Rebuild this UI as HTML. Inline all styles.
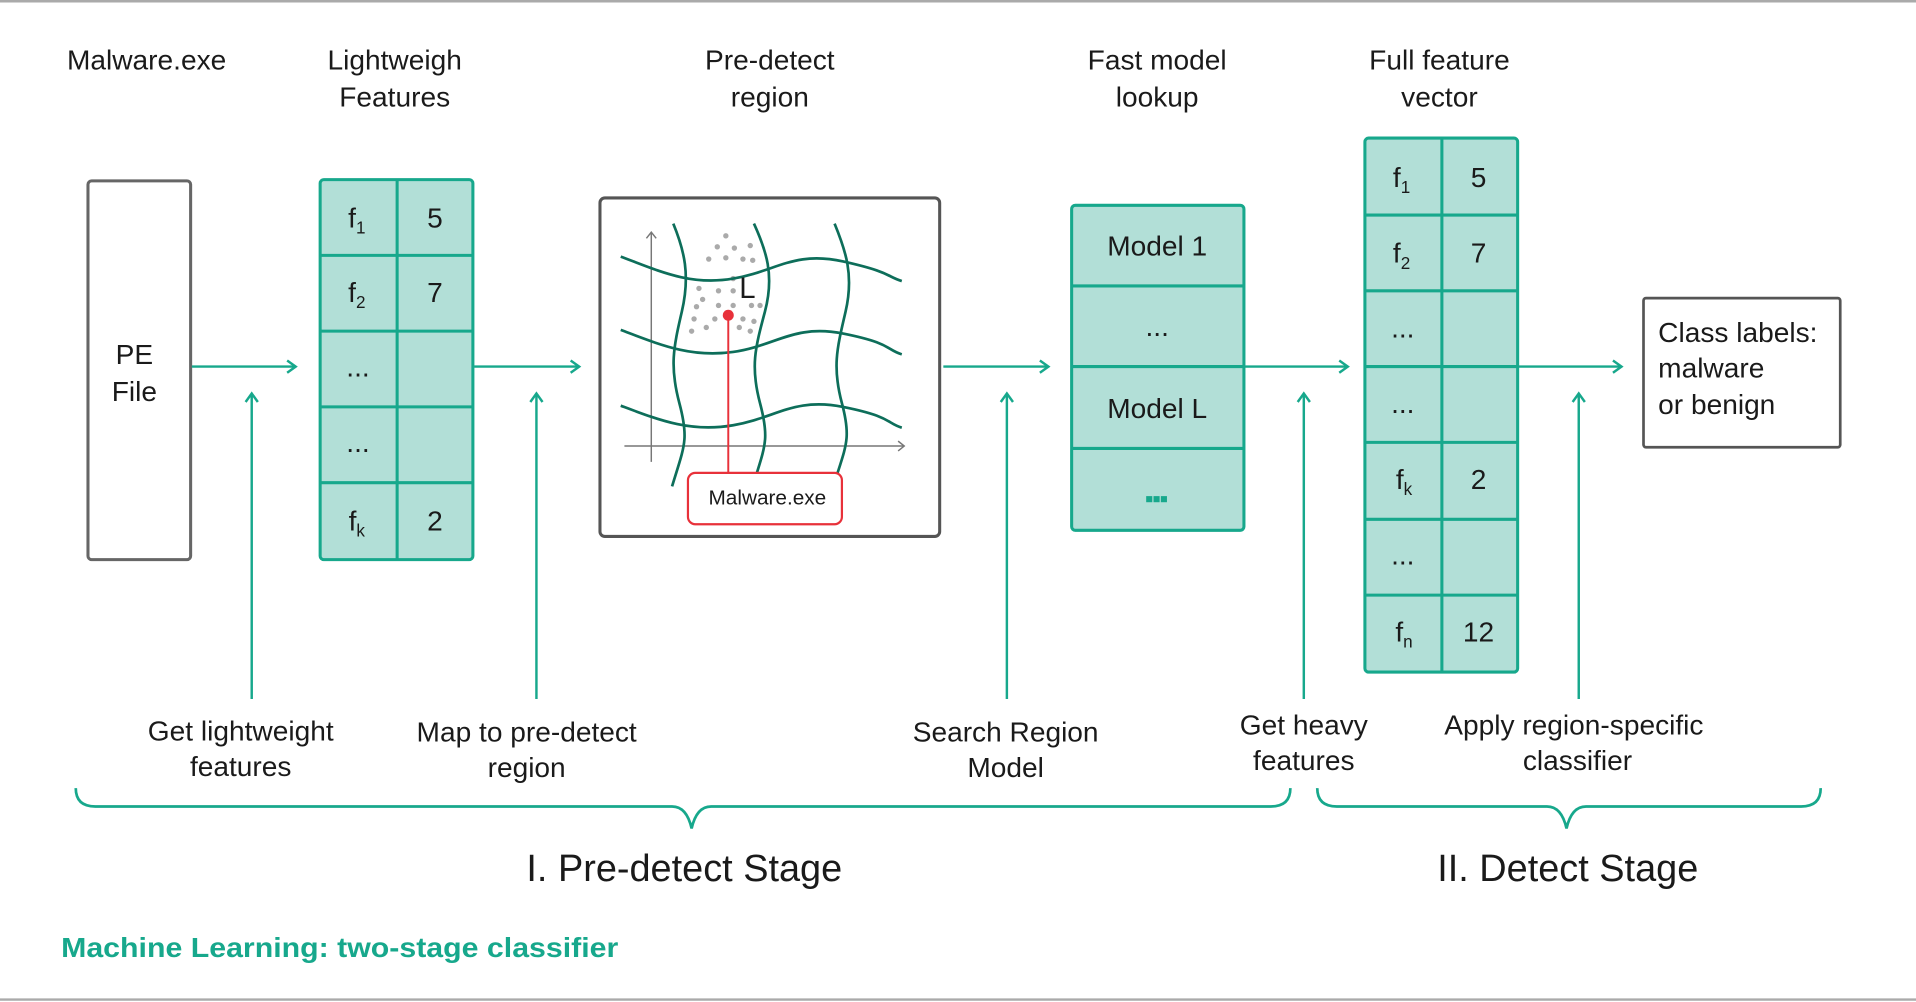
<!DOCTYPE html>
<html><head><meta charset="utf-8"><style>
html,body{margin:0;padding:0;background:#fff;}
svg{display:block;}
text{font-family:"Liberation Sans",sans-serif;fill:#1a1a1a;}
</style></head><body>
<svg width="1916" height="1002" viewBox="0 0 1568 820" preserveAspectRatio="none" xmlns="http://www.w3.org/2000/svg">
<rect x="0" y="0" width="1568" height="820" fill="#fff"/>
<line x1="0" y1="1" x2="1568" y2="1" stroke="#aaa" stroke-width="2"/>
<line x1="0" y1="818" x2="1568" y2="818" stroke="#aaa" stroke-width="2"/>
<g font-size="23" text-anchor="middle">
<text x="120" y="57">Malware.exe</text>
<text x="323" y="57">Lightweigh</text><text x="323" y="87">Features</text>
<text x="630" y="57">Pre-detect</text><text x="630" y="87">region</text>
<text x="947" y="57">Fast model</text><text x="947" y="87">lookup</text>
<text x="1178" y="57">Full feature</text><text x="1178" y="87">vector</text>
</g>
<rect x="72" y="148" width="84" height="310" rx="3" fill="#fff" stroke="#666" stroke-width="2.5"/>
<g font-size="23" text-anchor="middle"><text x="110" y="298">PE</text><text x="110" y="328">File</text></g>
<g stroke="#17a88c" stroke-width="2.5" fill="#b2dfd7">
<rect x="262" y="147" width="125" height="311" rx="3"/>
<line x1="325" y1="147" x2="325" y2="458"/>
<line x1="262" y1="209" x2="387" y2="209"/><line x1="262" y1="271" x2="387" y2="271"/>
<line x1="262" y1="333" x2="387" y2="333"/><line x1="262" y1="395" x2="387" y2="395"/>
</g>
<g font-size="23" text-anchor="middle">
<text x="292" y="186">f<tspan font-size="14" dy="5">1</tspan></text><text x="356" y="186">5</text>
<text x="292" y="247">f<tspan font-size="14" dy="5">2</tspan></text><text x="356" y="247">7</text>
<text x="293" y="308">...</text><text x="293" y="370">...</text>
<text x="292" y="434">f<tspan font-size="14" dy="5">k</tspan></text><text x="356" y="434">2</text>
</g>
<g stroke="#17a88c" stroke-width="2" fill="none">
<line x1="157" y1="300" x2="242" y2="300"/><polyline points="235,295 242,300 235,305"/>
<line x1="388" y1="300" x2="474" y2="300"/><polyline points="467,295 474,300 467,305"/>
<line x1="772" y1="300" x2="858" y2="300"/><polyline points="851,295 858,300 851,305"/>
<line x1="1018" y1="300" x2="1103" y2="300"/><polyline points="1096,295 1103,300 1096,305"/>
<line x1="1243" y1="300" x2="1327" y2="300"/><polyline points="1320,295 1327,300 1320,305"/>
<line x1="206" y1="572" x2="206" y2="322"/><polyline points="201,329 206,322 211,329"/>
<line x1="439" y1="572" x2="439" y2="322"/><polyline points="434,329 439,322 444,329"/>
<line x1="824" y1="572" x2="824" y2="322"/><polyline points="819,329 824,322 829,329"/>
<line x1="1067" y1="572" x2="1067" y2="322"/><polyline points="1062,329 1067,322 1072,329"/>
<line x1="1292" y1="572" x2="1292" y2="322"/><polyline points="1287,329 1292,322 1297,329"/>
</g>
<rect x="491" y="162" width="278" height="277" rx="4" fill="#fff" stroke="#555" stroke-width="2.5"/>
<g stroke="#777" stroke-width="1.2" fill="none">
<line x1="533" y1="378" x2="533" y2="190"/><polyline points="529,195 533,190 537,195"/>
<line x1="511" y1="365" x2="740" y2="365"/><polyline points="735,361 740,365 735,369"/>
</g>
<g fill="#aaa">
<circle cx="594" cy="193" r="2.2"/><circle cx="587" cy="202" r="2.2"/><circle cx="601" cy="203" r="2.2"/><circle cx="614" cy="201" r="2.2"/>
<circle cx="580" cy="212" r="2.2"/><circle cx="594" cy="211" r="2.2"/><circle cx="608" cy="212" r="2.2"/><circle cx="616" cy="213" r="2.2"/>
<circle cx="600" cy="228" r="2.2"/><circle cx="572" cy="236" r="2.2"/><circle cx="588" cy="238" r="2.2"/><circle cx="600" cy="238" r="2.2"/>
<circle cx="575" cy="245" r="2.2"/><circle cx="570" cy="251" r="2.2"/><circle cx="588" cy="250" r="2.2"/><circle cx="600" cy="250" r="2.2"/>
<circle cx="615" cy="250" r="2.2"/><circle cx="622" cy="250" r="2.2"/><circle cx="568" cy="261" r="2.2"/><circle cx="585" cy="261" r="2.2"/>
<circle cx="608" cy="261" r="2.2"/><circle cx="617" cy="263" r="2.2"/><circle cx="566" cy="271" r="2.2"/><circle cx="578" cy="268" r="2.2"/>
<circle cx="605" cy="268" r="2.2"/><circle cx="614" cy="271" r="2.2"/>
</g>
<g stroke="#0d6e5a" stroke-width="2.2" fill="none">
<path d="M508,210 C540,222 565,234 600,228 S650,205 690,214 S725,226 738,230"/>
<path d="M508,270 C540,282 565,293 600,288 S650,265 690,273 S725,286 738,290"/>
<path d="M508,332 C540,344 565,354 600,348 S650,325 690,333 S725,346 738,350"/>
<path d="M551,183 C560,205 565,225 558,255 S548,300 556,330 S560,365 550,398"/>
<path d="M617,183 C627,205 634,225 626,255 S614,300 622,330 S626,365 616,398"/>
<path d="M683,183 C692,205 699,225 692,255 S681,300 689,330 S692,365 682,398"/>
</g>
<text x="605" y="244" font-size="24">L</text>
<line x1="596" y1="258" x2="596" y2="387" stroke="#e8313a" stroke-width="1.6"/>
<circle cx="596" cy="258" r="4.5" fill="#e8313a"/>
<rect x="563" y="387" width="126" height="42" rx="6" fill="#fff" stroke="#e8313a" stroke-width="1.8"/>
<text x="628" y="413" font-size="17" text-anchor="middle">Malware.exe</text>
<g stroke="#17a88c" stroke-width="2.5" fill="#b2dfd7">
<rect x="877" y="168" width="141" height="266" rx="3"/>
<line x1="877" y1="234" x2="1018" y2="234"/><line x1="877" y1="300" x2="1018" y2="300"/><line x1="877" y1="367" x2="1018" y2="367"/>
</g>
<g font-size="23" text-anchor="middle">
<text x="947" y="209">Model 1</text><text x="947" y="275">...</text><text x="947" y="342">Model L</text>
</g>
<g fill="#17a88c"><rect x="938" y="406" width="5" height="5"/><rect x="944" y="406" width="5" height="5"/><rect x="950" y="406" width="5" height="5"/></g>
<g stroke="#17a88c" stroke-width="2.5" fill="#b2dfd7">
<rect x="1117" y="113" width="125" height="437" rx="3"/>
<line x1="1180" y1="113" x2="1180" y2="550"/>
<line x1="1117" y1="176" x2="1242" y2="176"/><line x1="1117" y1="238" x2="1242" y2="238"/>
<line x1="1117" y1="300" x2="1242" y2="300"/><line x1="1117" y1="362" x2="1242" y2="362"/>
<line x1="1117" y1="425" x2="1242" y2="425"/><line x1="1117" y1="487" x2="1242" y2="487"/>
</g>
<g font-size="23" text-anchor="middle">
<text x="1147" y="153">f<tspan font-size="14" dy="5">1</tspan></text><text x="1210" y="153">5</text>
<text x="1147" y="215">f<tspan font-size="14" dy="5">2</tspan></text><text x="1210" y="215">7</text>
<text x="1148" y="276">...</text><text x="1148" y="338">...</text>
<text x="1149" y="400">f<tspan font-size="14" dy="5">k</tspan></text><text x="1210" y="400">2</text>
<text x="1148" y="462">...</text>
<text x="1149" y="525">f<tspan font-size="14" dy="5">n</tspan></text><text x="1210" y="525">12</text>
</g>
<rect x="1345" y="244" width="161" height="122" rx="2" fill="#fff" stroke="#555" stroke-width="2.2"/>
<g font-size="23"><text x="1357" y="280">Class labels:</text><text x="1357" y="309">malware</text><text x="1357" y="339">or benign</text></g>
<g font-size="23" text-anchor="middle">
<text x="197" y="606">Get lightweight</text><text x="197" y="635">features</text>
<text x="431" y="607">Map to pre-detect</text><text x="431" y="636">region</text>
<text x="823" y="607">Search Region</text><text x="823" y="636">Model</text>
<text x="1067" y="601">Get heavy</text><text x="1067" y="630">features</text>
<text x="1288" y="601">Apply region-specific</text><text x="1291" y="630">classifier</text>
</g>
<g stroke="#17a88c" stroke-width="2.2" fill="none">
<path d="M62,645 Q62,660 78,660 L550,660 Q562,660 566,678 Q570,660 582,660 L1040,660 Q1056,660 1056,645"/>
<path d="M1078,645 Q1078,660 1094,660 L1266,660 Q1278,660 1282,678 Q1286,660 1298,660 L1474,660 Q1490,660 1490,645"/>
</g>
<g font-size="31" text-anchor="middle"><text x="560" y="721">I. Pre-detect Stage</text><text x="1283" y="721">II. Detect Stage</text></g>
<text x="50" y="783" font-size="23" font-weight="bold" textLength="456" lengthAdjust="spacingAndGlyphs" style="fill:#17a88c">Machine Learning: two-stage classifier</text>
</svg>
</body></html>
